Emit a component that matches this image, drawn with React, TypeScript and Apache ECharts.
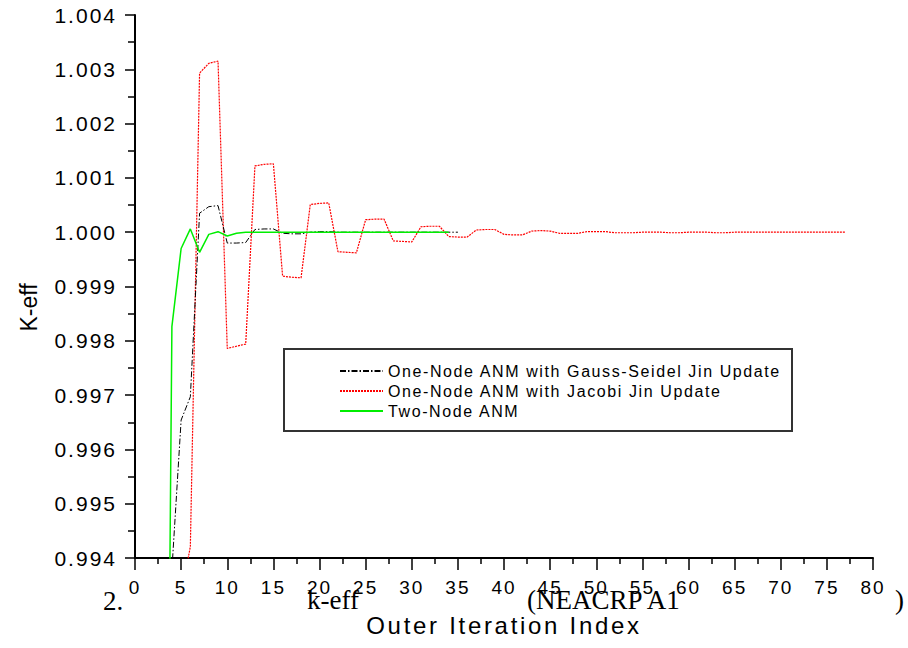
import React, { useEffect, useRef } from "react";
import * as echarts from "echarts";

// ---- data ----
const seriesNames = [
  "One-Node ANM with Gauss-Seidel Jin Update",
  "One-Node ANM with Jacobi Jin Update",
  "Two-Node ANM",
];

const gsIter = [3, 4, 5, 6, 7, 8, 9, 10, 11, 12, 13, 14, 15, 16, 17, 18, 19, 20, 21, 22, 23, 24, 25, 26, 27, 28, 29, 30, 31, 32, 33, 34, 35];
const gsK = [
  0.98, 0.99378, 0.99654, 0.99697, 1.00035, 1.00047, 1.00049, 0.9998, 0.9998, 0.99981,
  1.00005, 1.00006, 1.00006, 0.99998, 0.99997, 0.99997, 1.0, 1.00001, 1.00001, 1.0,
  1.0, 1.0, 1.0, 1.0, 1.0, 1.0, 1.0, 1.0, 1.0, 1.0, 1.0, 1.0, 1.0,
];

const jacIter = [
  4, 5, 6, 7, 8, 9, 10, 11, 12, 13, 14, 15, 16, 17, 18, 19, 20, 21, 22, 23, 24, 25, 26, 27, 28,
  29, 30, 31, 32, 33, 34, 35, 36, 37, 38, 39, 40, 41, 42, 43, 44, 45, 46, 47, 48, 49, 50, 51, 52,
  53, 54, 55, 56, 57, 58, 59, 60, 61, 62, 63, 64, 65, 66, 67, 68, 69, 70, 71, 72, 73, 74, 75, 76, 77,
];
const jacK = [
  0.985, 0.9933, 0.99421, 1.00293, 1.00311, 1.00315, 0.99786, 0.9979, 0.99794, 1.00122,
  1.00125, 1.00126, 0.99919, 0.99917, 0.99916, 1.00051, 1.00053, 1.00054, 0.99964, 0.99963,
  0.99962, 1.00023, 1.00024, 1.00024, 0.99984, 0.99983, 0.99982, 1.0001, 1.00011, 1.00011,
  0.99992, 0.99991, 0.99991, 1.00004, 1.00005, 1.00005, 0.99996, 0.99995, 0.99995, 1.00002,
  1.00003, 1.00002, 0.99998, 0.99998, 0.99998, 1.00001, 1.00001, 1.00001, 0.99999, 0.99999,
  0.99999, 1.0, 1.0, 1.0, 0.99999, 0.99999, 1.0, 1.0, 1.0, 0.99999, 0.99999, 1.0,
  1.0, 1.0, 1.0, 1.0, 1.0, 1.0, 1.0, 1.0, 1.0, 1.0, 1.0, 1.0,
];

const twoIter = [3, 4, 5, 6, 7, 8, 9, 10, 11, 12, 13, 14, 15, 16, 17, 18, 19, 20, 21, 22, 23, 24, 25, 26, 27, 28, 29, 30, 31, 32, 33, 34];
const twoK = [
  0.978, 0.99826, 0.9997, 1.00006, 0.99963, 0.99996, 1.00001, 0.99993, 0.99998, 1.0,
  1.0, 1.0, 1.0, 1.0, 1.0, 1.0, 1.0, 1.0, 1.0, 1.0, 1.0, 1.0, 1.0, 1.0, 1.0, 1.0,
  1.0, 1.0, 1.0, 1.0, 1.0, 1.0,
];

const xTicks = { min: 0, max: 80, interval: 5 };
const yTicks = { min: 0.994, max: 1.004, interval: 0.001 };

const captionParts = ["2.", "k-eff", "(NEACRP A1", ")"];

const SANS = "'Liberation Sans'";
const SERIF = "'Liberation Serif'";

const css = `
#root text[style*="21px"], #root text[font-size="21px"] { letter-spacing: 2px; }
#root text[style*="19px"], #root text[font-size="19px"] { letter-spacing: 2px; }
#root text[style*="16px"], #root text[font-size="16px"] { letter-spacing: 1.6px; }
#root text[style*="24px"], #root text[font-size="24px"] { letter-spacing: 2.7px; }
`;

export default function App() {
  const ref = useRef<HTMLDivElement>(null);

  useEffect(() => {
    if (!ref.current) return;
    const chart = echarts.init(ref.current, undefined, { renderer: "svg" });
    const pair = (xs: number[], ys: number[]) => xs.map((x, i) => [x, ys[i]]);

    const captionStyle = { fontFamily: SERIF, fontSize: 27, fill: "#000", verticalAlign: "middle" };

    chart.setOption({
      animation: false,
      backgroundColor: "#ffffff",
      grid: { left: 135, right: 35, top: 15, bottom: 90 },
      legend: {
        data: seriesNames,
        orient: "vertical",
        left: 339,
        top: 361,
        padding: 0,
        itemGap: 0,
        itemWidth: 43,
        itemHeight: 14,
        itemStyle: { opacity: 0 },
        textStyle: { fontFamily: SANS, fontSize: 16, lineHeight: 20, color: "#000" },
        selectedMode: false,
      },
      xAxis: {
        type: "value",
        min: xTicks.min,
        max: xTicks.max,
        interval: xTicks.interval,
        name: "Outer Iteration Index",
        nameLocation: "middle",
        nameGap: 55,
        nameTextStyle: { fontFamily: SANS, fontSize: 24, color: "#000" },
        axisLine: { show: true, onZero: false, lineStyle: { color: "#000", width: 2 } },
        axisTick: { show: true, length: 12, lineStyle: { color: "#000", width: 1.5 } },
        minorTick: { show: true, splitNumber: 2, length: 6, lineStyle: { color: "#000", width: 1.5 } },
        splitLine: { show: false },
        axisLabel: { margin: 20, fontFamily: SANS, fontSize: 19, color: "#000" },
      },
      yAxis: {
        type: "value",
        min: yTicks.min,
        max: yTicks.max,
        interval: yTicks.interval,
        name: "K-eff",
        nameLocation: "middle",
        nameGap: 95,
        nameTextStyle: { fontFamily: SANS, fontSize: 23, color: "#000", padding: [0, 42, 0, 0] },
        axisLine: { show: true, onZero: false, lineStyle: { color: "#000", width: 2 } },
        axisTick: { show: true, length: 10, lineStyle: { color: "#000", width: 1.5 } },
        minorTick: { show: true, splitNumber: 2, length: 7, lineStyle: { color: "#000", width: 1.5 } },
        splitLine: { show: false },
        axisLabel: {
          margin: 18,
          fontFamily: SANS,
          fontSize: 21,
          color: "#000",
          padding: [8, 0, 0, 0],
          formatter: (v: number) => v.toFixed(3),
        },
      },
      series: [
        {
          type: "line",
          name: seriesNames[1],
          data: pair(jacIter, jacK),
          symbol: "none",
          itemStyle: { color: "#ff0000" },
          lineStyle: { color: "#ff0000", width: 1.2, type: [2, 1] },
          z: 2,
        },
        {
          type: "line",
          name: seriesNames[0],
          data: pair(gsIter, gsK),
          symbol: "none",
          itemStyle: { color: "#000000" },
          lineStyle: { color: "#000000", width: 1, type: [6, 2, 1.5, 2] },
          z: 3,
        },
        {
          type: "line",
          name: seriesNames[2],
          data: pair(twoIter, twoK),
          symbol: "none",
          itemStyle: { color: "#00ee00" },
          lineStyle: { color: "#00ee00", width: 1.5 },
          z: 4,
        },
      ],
      graphic: [
        {
          type: "rect",
          shape: { x: 284, y: 349, width: 508, height: 82 },
          style: { fill: "none", stroke: "#333", lineWidth: 2 },
          z: 1,
        },
        { type: "text", x: 103, y: 601, style: { ...captionStyle, text: captionParts[0] } },
        { type: "text", x: 307, y: 600, style: { ...captionStyle, text: captionParts[1] } },
        { type: "text", x: 527, y: 600, style: { ...captionStyle, text: captionParts[2] } },
        { type: "text", x: 895, y: 600, style: { ...captionStyle, text: captionParts[3] } },
      ],
    });
    return () => chart.dispose();
  }, []);

  return (
    <>
      <style>{css}</style>
      <div
        ref={ref}
        style={{ position: "absolute", left: 0, top: 0, width: 908, height: 648, background: "#fff" }}
      />
    </>
  );
}
